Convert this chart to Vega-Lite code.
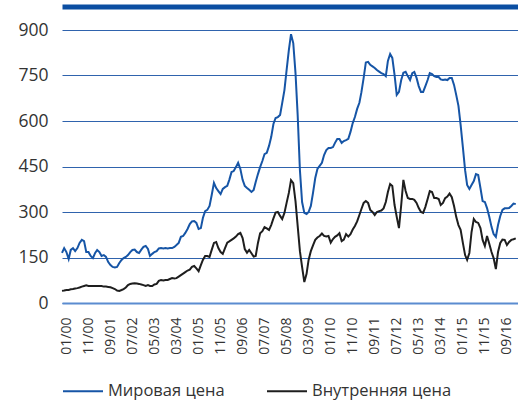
{
  "$schema": "https://vega.github.io/schema/vega-lite/v6.json",
  "width": 456,
  "height": 273,
  "autosize": {"type": "none"},
  "padding": {"left": 62, "top": 30, "right": 0, "bottom": 100},
  "background": "white",
  "config": {"view": {"stroke": null}, "font": "Open Sans"},
  "data": {"values": [
    {"d":"1999-11","w":165,"i":40},{"d":"1999-12","w":181,"i":41},
    {"d":"2000-01","w":168,"i":43},{"d":"2000-02","w":145,"i":43},{"d":"2000-03","w":175,"i":45},{"d":"2000-04","w":181,"i":46},{"d":"2000-05","w":171,"i":48},{"d":"2000-06","w":181,"i":49},{"d":"2000-07","w":198,"i":51},{"d":"2000-08","w":208,"i":54},{"d":"2000-09","w":204,"i":56},{"d":"2000-10","w":168,"i":58},{"d":"2000-11","w":168,"i":56},{"d":"2000-12","w":155,"i":56},
    {"d":"2001-01","w":148,"i":56},{"d":"2001-02","w":165,"i":56},{"d":"2001-03","w":175,"i":56},{"d":"2001-04","w":168,"i":56},{"d":"2001-05","w":155,"i":56},{"d":"2001-06","w":158,"i":54},{"d":"2001-07","w":152,"i":54},{"d":"2001-08","w":135,"i":53},{"d":"2001-09","w":125,"i":52},{"d":"2001-10","w":119,"i":49},{"d":"2001-11","w":117,"i":46},{"d":"2001-12","w":119,"i":41},
    {"d":"2002-01","w":132,"i":40},{"d":"2002-02","w":142,"i":43},{"d":"2002-03","w":148,"i":46},{"d":"2002-04","w":152,"i":51},{"d":"2002-05","w":158,"i":59},{"d":"2002-06","w":168,"i":63},{"d":"2002-07","w":175,"i":64},{"d":"2002-08","w":176,"i":65},{"d":"2002-09","w":168,"i":64},{"d":"2002-10","w":165,"i":63},{"d":"2002-11","w":176,"i":61},{"d":"2002-12","w":185,"i":59},
    {"d":"2003-01","w":188,"i":56},{"d":"2003-02","w":178,"i":59},{"d":"2003-03","w":155,"i":56},{"d":"2003-04","w":162,"i":56},{"d":"2003-05","w":168,"i":61},{"d":"2003-06","w":171,"i":63},{"d":"2003-07","w":180,"i":73},{"d":"2003-08","w":181,"i":76},{"d":"2003-09","w":180,"i":74},{"d":"2003-10","w":181,"i":76},{"d":"2003-11","w":180,"i":76},{"d":"2003-12","w":181,"i":79},
    {"d":"2004-01","w":181,"i":82},{"d":"2004-02","w":185,"i":81},{"d":"2004-03","w":191,"i":82},{"d":"2004-04","w":198,"i":87},{"d":"2004-05","w":218,"i":92},{"d":"2004-06","w":221,"i":97},{"d":"2004-07","w":231,"i":102},{"d":"2004-08","w":244,"i":107},{"d":"2004-09","w":260,"i":110},{"d":"2004-10","w":269,"i":119},{"d":"2004-11","w":270,"i":122},{"d":"2004-12","w":264,"i":114},
    {"d":"2005-01","w":244,"i":105},{"d":"2005-02","w":247,"i":125},{"d":"2005-03","w":280,"i":142},{"d":"2005-04","w":303,"i":155},{"d":"2005-05","w":307,"i":155},{"d":"2005-06","w":320,"i":152},{"d":"2005-07","w":356,"i":175},{"d":"2005-08","w":396,"i":198},{"d":"2005-09","w":379,"i":201},{"d":"2005-10","w":369,"i":181},{"d":"2005-11","w":359,"i":168},{"d":"2005-12","w":376,"i":162},
    {"d":"2006-01","w":382,"i":181},{"d":"2006-02","w":386,"i":199},{"d":"2006-03","w":406,"i":203},{"d":"2006-04","w":432,"i":208},{"d":"2006-05","w":435,"i":213},{"d":"2006-06","w":448,"i":219},{"d":"2006-07","w":462,"i":227},{"d":"2006-08","w":442,"i":231},{"d":"2006-09","w":406,"i":214},{"d":"2006-10","w":386,"i":178},{"d":"2006-11","w":379,"i":166},{"d":"2006-12","w":373,"i":175},
    {"d":"2007-01","w":366,"i":164},{"d":"2007-02","w":373,"i":153},{"d":"2007-03","w":399,"i":155},{"d":"2007-04","w":425,"i":198},{"d":"2007-05","w":448,"i":230},{"d":"2007-06","w":468,"i":237},{"d":"2007-07","w":491,"i":250},{"d":"2007-08","w":495,"i":246},{"d":"2007-09","w":518,"i":241},{"d":"2007-10","w":547,"i":257},{"d":"2007-11","w":590,"i":279},{"d":"2007-12","w":610,"i":298},
    {"d":"2008-01","w":613,"i":300},{"d":"2008-02","w":620,"i":287},{"d":"2008-03","w":659,"i":277},{"d":"2008-04","w":702,"i":297},{"d":"2008-05","w":768,"i":330},{"d":"2008-06","w":834,"i":363},{"d":"2008-07","w":886,"i":405},{"d":"2008-08","w":857,"i":395},{"d":"2008-09","w":758,"i":336},{"d":"2008-10","w":620,"i":254},{"d":"2008-11","w":438,"i":171},{"d":"2008-12","w":333,"i":119},
    {"d":"2009-01","w":297,"i":69},{"d":"2009-02","w":293,"i":96},{"d":"2009-03","w":300,"i":142},{"d":"2009-04","w":320,"i":171},{"d":"2009-05","w":363,"i":190},{"d":"2009-06","w":412,"i":208},{"d":"2009-07","w":442,"i":216},{"d":"2009-08","w":452,"i":221},{"d":"2009-09","w":462,"i":229},{"d":"2009-10","w":488,"i":221},{"d":"2009-11","w":504,"i":219},{"d":"2009-12","w":511,"i":221},
    {"d":"2010-01","w":511,"i":199},{"d":"2010-02","w":514,"i":211},{"d":"2010-03","w":528,"i":218},{"d":"2010-04","w":541,"i":223},{"d":"2010-05","w":541,"i":230},{"d":"2010-06","w":528,"i":204},{"d":"2010-07","w":534,"i":209},{"d":"2010-08","w":537,"i":227},{"d":"2010-09","w":541,"i":219},{"d":"2010-10","w":564,"i":227},{"d":"2010-11","w":593,"i":242},{"d":"2010-12","w":613,"i":254},
    {"d":"2011-01","w":640,"i":269},{"d":"2011-02","w":660,"i":290},{"d":"2011-03","w":695,"i":310},{"d":"2011-04","w":742,"i":330},{"d":"2011-05","w":793,"i":336},{"d":"2011-06","w":795,"i":330},{"d":"2011-07","w":785,"i":307},{"d":"2011-08","w":780,"i":300},{"d":"2011-09","w":775,"i":290},{"d":"2011-10","w":768,"i":300},{"d":"2011-11","w":763,"i":303},{"d":"2011-12","w":758,"i":305},
    {"d":"2012-01","w":755,"i":312},{"d":"2012-02","w":748,"i":333},{"d":"2012-03","w":798,"i":366},{"d":"2012-04","w":821,"i":392},{"d":"2012-05","w":808,"i":386},{"d":"2012-06","w":752,"i":323},{"d":"2012-07","w":686,"i":284},{"d":"2012-08","w":696,"i":247},{"d":"2012-09","w":735,"i":323},{"d":"2012-10","w":759,"i":406},{"d":"2012-11","w":762,"i":369},{"d":"2012-12","w":748,"i":346},
    {"d":"2013-01","w":735,"i":343},{"d":"2013-02","w":758,"i":343},{"d":"2013-03","w":762,"i":340},{"d":"2013-04","w":742,"i":330},{"d":"2013-05","w":715,"i":313},{"d":"2013-06","w":696,"i":300},{"d":"2013-07","w":696,"i":297},{"d":"2013-08","w":715,"i":317},{"d":"2013-09","w":735,"i":343},{"d":"2013-10","w":758,"i":369},{"d":"2013-11","w":755,"i":366},{"d":"2013-12","w":748,"i":346},
    {"d":"2014-01","w":745,"i":346},{"d":"2014-02","w":745,"i":343},{"d":"2014-03","w":737,"i":323},{"d":"2014-04","w":735,"i":330},{"d":"2014-05","w":737,"i":346},{"d":"2014-06","w":735,"i":351},{"d":"2014-07","w":742,"i":361},{"d":"2014-08","w":742,"i":349},{"d":"2014-09","w":719,"i":320},{"d":"2014-10","w":686,"i":284},{"d":"2014-11","w":650,"i":257},{"d":"2014-12","w":587,"i":241},
    {"d":"2015-01","w":514,"i":198},{"d":"2015-02","w":438,"i":158},{"d":"2015-03","w":389,"i":142},{"d":"2015-04","w":376,"i":165},{"d":"2015-05","w":389,"i":234},{"d":"2015-06","w":402,"i":277},{"d":"2015-07","w":425,"i":267},{"d":"2015-08","w":422,"i":264},{"d":"2015-09","w":379,"i":247},{"d":"2015-10","w":336,"i":208},{"d":"2015-11","w":333,"i":188},{"d":"2015-12","w":313,"i":221},
    {"d":"2016-01","w":284,"i":195},{"d":"2016-02","w":251,"i":168},{"d":"2016-03","w":227,"i":148},{"d":"2016-04","w":218,"i":112},{"d":"2016-05","w":257,"i":168},{"d":"2016-06","w":287,"i":198},{"d":"2016-07","w":307,"i":209},{"d":"2016-08","w":312,"i":208},{"d":"2016-09","w":312,"i":191},{"d":"2016-10","w":313,"i":201},{"d":"2016-11","w":320,"i":208},{"d":"2016-12","w":328,"i":210},
    {"d":"2017-01","w":326,"i":213}
  ]},
  "layer": [
    {
      "mark": {"type": "line", "strokeWidth": 2, "clip": false},
      "encoding": {
        "x": {
          "field": "d", "type": "temporal",
          "scale": {"type": "utc", "nice": false, "domain": [{"year": 1999, "month": 11, "date": 1, "utc": true}, {"year": 2017, "month": 2, "date": 1, "utc": true}]},
          "axis": {
            "orient": "bottom", "title": null,
            "labelExpr": "utcFormat(datum.value, '%m/%y')",
            "values": [
              {"year":2000,"month":1,"date":1,"utc":true},{"year":2000,"month":11,"date":1,"utc":true},{"year":2001,"month":9,"date":1,"utc":true},{"year":2002,"month":7,"date":1,"utc":true},{"year":2003,"month":5,"date":1,"utc":true},{"year":2004,"month":3,"date":1,"utc":true},{"year":2005,"month":1,"date":1,"utc":true},{"year":2005,"month":11,"date":1,"utc":true},{"year":2006,"month":9,"date":1,"utc":true},{"year":2007,"month":7,"date":1,"utc":true},{"year":2008,"month":5,"date":1,"utc":true},{"year":2009,"month":3,"date":1,"utc":true},{"year":2010,"month":1,"date":1,"utc":true},{"year":2010,"month":11,"date":1,"utc":true},{"year":2011,"month":9,"date":1,"utc":true},{"year":2012,"month":7,"date":1,"utc":true},{"year":2013,"month":5,"date":1,"utc":true},{"year":2014,"month":3,"date":1,"utc":true},{"year":2015,"month":1,"date":1,"utc":true},{"year":2015,"month":11,"date":1,"utc":true},{"year":2016,"month":9,"date":1,"utc":true}
            ],
            "labelAngle": 270, "labelFontSize": 14, "labelColor": "#333333", "labelPadding": 14,
            "labelOverlap": false, "labelFlush": false, "labelBound": false,
            "ticks": false, "tickSize": 0, "grid": false,
            "domain": true, "domainColor": "#5b8cd0", "domainWidth": 2
          }
        },
        "y": {
          "field": "w", "type": "quantitative",
          "scale": {"domain": [0, 900], "nice": false},
          "axis": {
            "title": null, "values": [0, 150, 300, 450, 600, 750, 900],
            "grid": true, "gridColor": "#2f63ad", "gridWidth": 1,
            "domain": false, "ticks": false,
            "labelFontSize": 17.5, "labelColor": "#333333", "labelPadding": 14
          }
        },
        "color": {
          "datum": "Мировая цена", "type": "nominal",
          "scale": {"domain": ["Мировая цена", "Внутренняя цена"], "range": ["#1655a6", "#1e1e1e"]},
          "legend": {
            "title": null, "orient": "none", "legendX": 0, "legendY": 340, "direction": "horizontal",
            "symbolType": "stroke", "symbolSize": 1600, "symbolStrokeWidth": 2,
            "labelFontSize": 16.5, "labelColor": "#333333", "labelOffset": 4, "columnPadding": 38, "padding": 0
          }
        }
      }
    },
    {
      "mark": {"type": "line", "strokeWidth": 2, "clip": false},
      "encoding": {
        "x": {
          "field": "d", "type": "temporal",
          "axis": {
            "orient": "top", "title": null, "labels": false, "ticks": false, "grid": false,
            "domain": true, "domainColor": "#0b4ea2", "domainWidth": 5, "offset": 23.5
          }
        },
        "y": {"field": "i", "type": "quantitative"},
        "color": {"datum": "Внутренняя цена", "type": "nominal"}
      }
    }
  ],
  "resolve": {"axis": {"x": "independent"}}
}
